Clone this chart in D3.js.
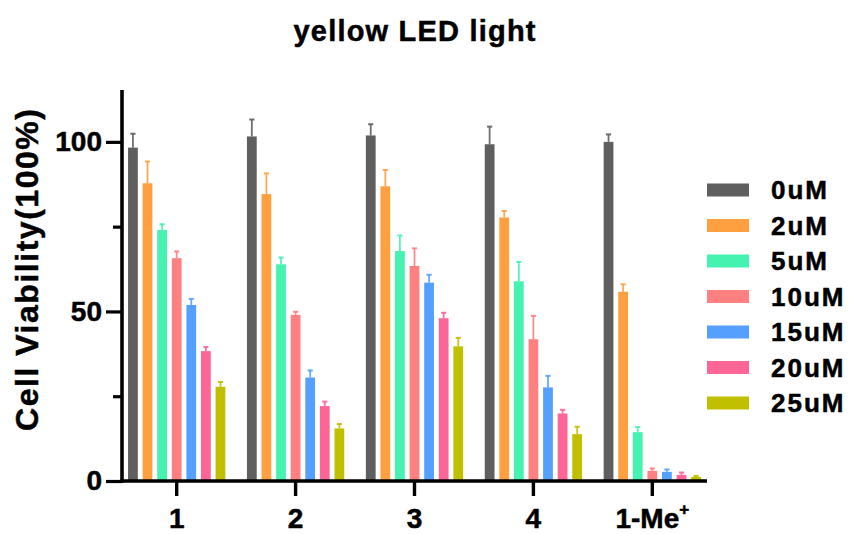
<!DOCTYPE html>
<html>
<head>
<meta charset="utf-8">
<script src="https://cdn.jsdelivr.net/npm/d3@7"></script>
<style>
  html, body { margin: 0; padding: 0; background: #fff; }
  svg { display: block; font-family: "Liberation Sans", Arial, sans-serif; font-weight: bold; }
  svg text { fill: #000; stroke: #000; stroke-width: 0.5px; }
</style>
</head>
<body>
<svg id="chart" width="850" height="534"></svg>
<script>
// Compounds tested (x groups) and concentrations (series)
const groups = ["1", "2", "3", "4", "1-Me+"];
const series = ["0uM", "2uM", "5uM", "10uM", "15uM", "20uM", "25uM"];
const colors = ["#5f5f5f", "#ffa040", "#45f2b0", "#ff8080", "#55a0ff", "#fb6696", "#c0bf00"];

// Mean viability (%) per concentration, one value per compound
const mean0  = [98.3, 101.6, 101.9, 99.3, 100.0];
const mean2  = [87.8, 84.6, 86.9, 77.7, 55.8];
const mean5  = [74.0, 63.9, 67.8, 58.9, 14.4];
const mean10 = [65.7, 49.0, 63.4, 41.8, 3.0];
const mean15 = [51.9, 30.5, 58.5, 27.6, 2.7];
const mean20 = [38.3, 22.1, 48.0, 19.9, 1.8];
const mean25 = [27.8, 15.5, 39.7, 13.8, 1.2];

// Standard deviations (upper error bars)
const sd0  = [4.1, 5.0, 3.3, 5.2, 2.2];
const sd2  = [6.4, 6.1, 4.8, 1.9, 2.2];
const sd5  = [1.7, 2.0, 4.6, 5.7, 1.5];
const sd10 = [2.0, 0.9, 5.2, 6.9, 0.7];
const sd15 = [1.8, 2.1, 2.3, 3.4, 0.7];
const sd20 = [1.2, 1.3, 1.6, 1.1, 0.7];
const sd25 = [1.4, 1.3, 2.5, 2.2, 0.3];

const yMajorTicks = [0, 50, 100];
const yMinorTicks = [25, 75];

const means = [mean0, mean2, mean5, mean10, mean15, mean20, mean25];
const sds = [sd0, sd2, sd5, sd10, sd15, sd20, sd25];

const rows = [];
series.forEach((s, si) => {
  groups.forEach((g, gi) => {
    rows.push({ group: g, series: s, si, value: means[si][gi], sd: sds[si][gi] });
  });
});

const svg = d3.select("#chart");

const x0 = d3.scaleBand().domain(groups).range([122, 707]).paddingInner(0.14).paddingOuter(0.03);
const x1 = d3.scaleBand().domain(series).range([0, x0.bandwidth()]).paddingInner(0.33).paddingOuter(0.17);
const y = d3.scaleLinear().domain([0, 115]).range([481, 91]);
const color = d3.scaleOrdinal().domain(series).range(colors);

// Title
svg.append("text")
  .attr("x", (x0.range()[0] + x0.range()[1]) / 2)
  .attr("y", 41)
  .attr("text-anchor", "middle")
  .attr("font-size", 29)
  .attr("textLength", 242)
  .attr("lengthAdjust", "spacing")
  .text("yellow LED light");

// Bars
const bars = svg.append("g");
bars.selectAll("rect")
  .data(rows)
  .join("rect")
  .attr("x", d => x0(d.group) + x1(d.series))
  .attr("width", x1.bandwidth())
  .attr("y", d => y(d.value))
  .attr("height", d => y(0) - y(d.value))
  .attr("fill", d => color(d.series));

// Error bars (upper only)
const err = svg.append("g");
err.selectAll("line.stem")
  .data(rows)
  .join("line")
  .attr("class", "stem")
  .attr("x1", d => x0(d.group) + x1(d.series) + x1.bandwidth() / 2)
  .attr("x2", d => x0(d.group) + x1(d.series) + x1.bandwidth() / 2)
  .attr("y1", d => y(d.value))
  .attr("y2", d => y(d.value + d.sd))
  .attr("stroke", d => color(d.series))
  .attr("stroke-opacity", 0.9)
  .attr("stroke-width", 1.8);
err.selectAll("line.cap")
  .data(rows)
  .join("line")
  .attr("class", "cap")
  .attr("x1", d => x0(d.group) + x1(d.series) + x1.bandwidth() / 2 - 2.6)
  .attr("x2", d => x0(d.group) + x1(d.series) + x1.bandwidth() / 2 + 2.6)
  .attr("y1", d => y(d.value + d.sd))
  .attr("y2", d => y(d.value + d.sd))
  .attr("stroke", d => color(d.series))
  .attr("stroke-opacity", 0.9)
  .attr("stroke-width", 2);

// Y axis
const axisW = 3.6;
const yAxis = svg.append("g").attr("transform", `translate(${x0.range()[0]},0)`);
yAxis.call(d3.axisLeft(y).tickValues(yMajorTicks).tickSize(16).tickPadding(4).tickFormat(d3.format("d")));
yAxis.append("g").call(d3.axisLeft(y).tickValues(yMinorTicks).tickSize(9).tickFormat(""));
yAxis.selectAll(".domain").remove();
yAxis.selectAll("line").attr("stroke", "#000").attr("stroke-width", 3.2);
yAxis.selectAll("text")
  .attr("font-size", 28)
  .attr("font-family", "Liberation Sans, Arial, sans-serif")
  .attr("font-weight", "bold");
yAxis.append("line")
  .attr("x1", 0).attr("x2", 0)
  .attr("y1", y.range()[1] - 1)
  .attr("y2", y(0) + axisW / 2)
  .attr("stroke", "#000").attr("stroke-width", axisW);

// X axis
const xAxis = svg.append("g").attr("transform", `translate(0,${y(0)})`);
xAxis.call(d3.axisBottom(x0).tickSize(15).tickFormat(""));
xAxis.selectAll(".domain").remove();
xAxis.selectAll("line").attr("stroke", "#000").attr("stroke-width", 3.4);
xAxis.append("line")
  .attr("x1", x0.range()[0] - axisW / 2).attr("x2", x0.range()[1])
  .attr("y1", 0).attr("y2", 0)
  .attr("stroke", "#000").attr("stroke-width", axisW);

// X tick labels, with a superscript charge on the methylated compound
const xLabels = svg.append("g");
groups.forEach(g => {
  const t = xLabels.append("text")
    .attr("x", x0(g) + x0.bandwidth() / 2)
    .attr("y", 528)
    .attr("text-anchor", "middle")
    .attr("font-size", 28);
  const m = g.match(/^(.*?)([+\-])$/);
  if (m && g.length > 2) {
    t.append("tspan").text(m[1]);
    t.append("tspan").attr("dy", -13).attr("font-size", 17).text(m[2]);
  } else {
    t.text(g);
  }
});

// Y axis title
svg.append("text")
  .attr("transform", `translate(38,${270}) rotate(-90)`)
  .attr("text-anchor", "middle")
  .attr("font-size", 32)
  .attr("textLength", 322)
  .attr("lengthAdjust", "spacing")
  .text("Cell Viability(100%)");

// Legend
const legend = svg.append("g");
series.forEach((s, i) => {
  const cy = 190 + i * 35.5;
  legend.append("rect")
    .attr("x", 707).attr("y", cy - 6.5)
    .attr("width", 42).attr("height", 13)
    .attr("fill", color(s));
  legend.append("text")
    .attr("x", 771).attr("y", cy)
    .attr("dy", "0.36em")
    .attr("font-size", 26)
    .attr("letter-spacing", 2)
    .text(s);
});
</script>
</body>
</html>
